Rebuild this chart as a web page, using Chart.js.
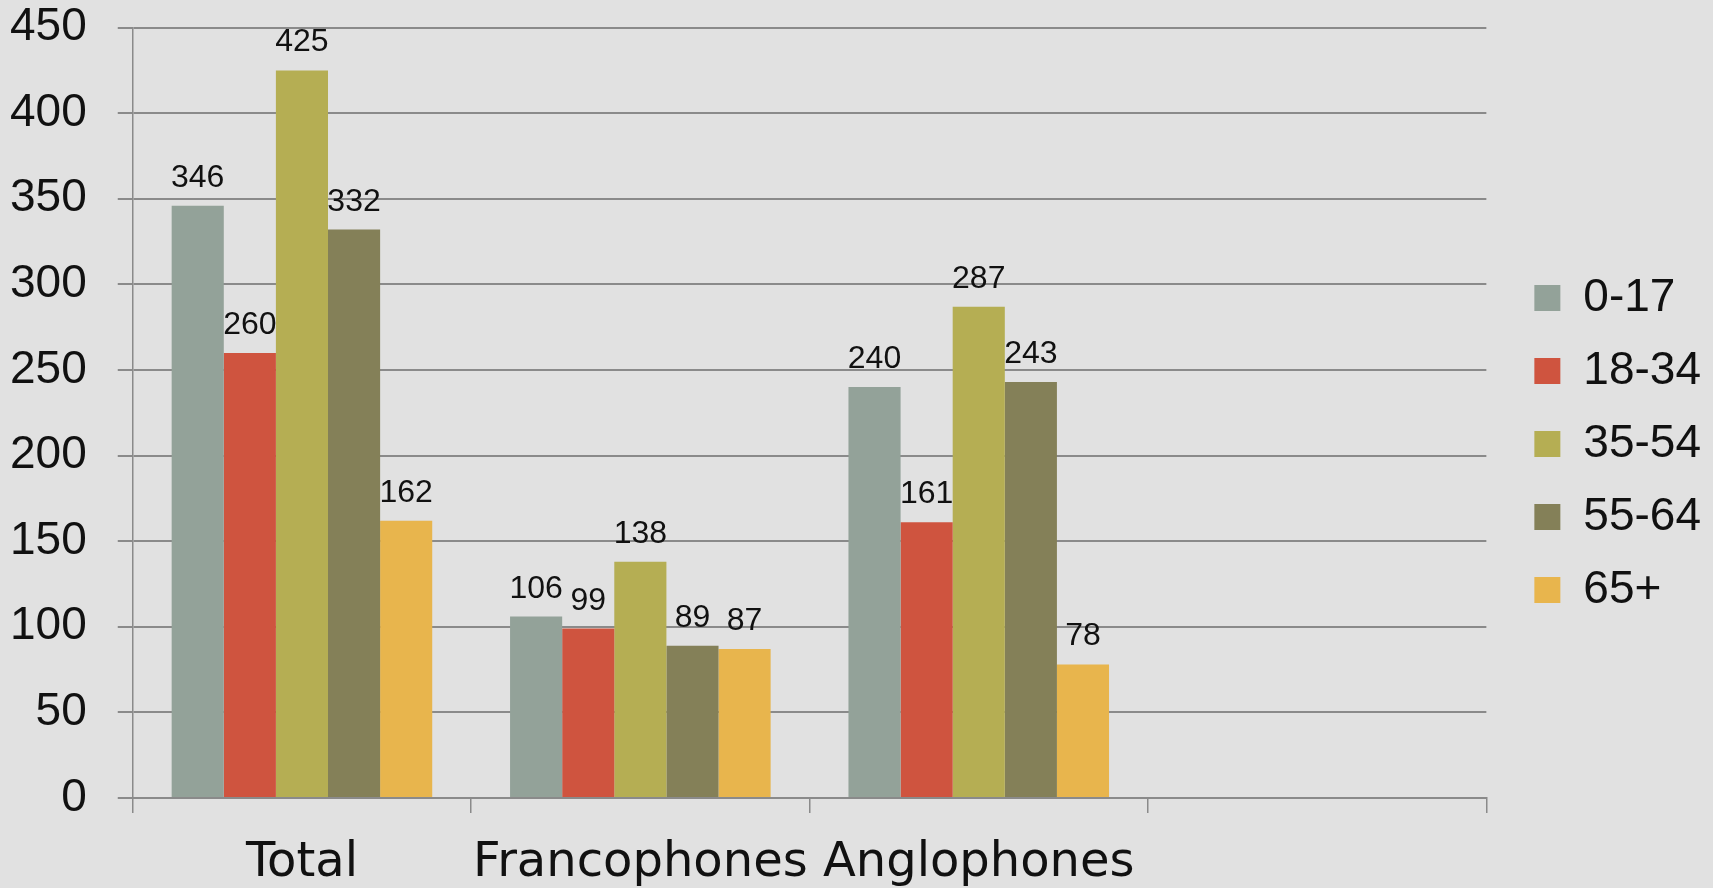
<!DOCTYPE html>
<html>
<head>
<meta charset="utf-8">
<script src="https://cdn.jsdelivr.net/npm/chart.js@4"></script>
<style>
  html, body { margin: 0; padding: 0; background: #e1e1e1; }
  #wrap { width: 1713px; height: 888px; }
</style>
</head>
<body>
<div id="wrap"><canvas id="chart"></canvas></div>
<script>
const categories = ["Total", "Francophones", "Anglophones", ""];
const ageGroups = ["0-17", "18-34", "35-54", "55-64", "65+"];
const age0to17 = [346, 106, 240, null];
const age18to34 = [260, 99, 161, null];
const age35to54 = [425, 138, 287, null];
const age55to64 = [332, 89, 243, null];
const age65plus = [162, 87, 78, null];
const yTicks = [0, 50, 100, 150, 200, 250, 300, 350, 400, 450];

const colors = ["#93a299", "#cf543f", "#b5ae53", "#848058", "#e8b54d"];
const series = [age0to17, age18to34, age35to54, age55to64, age65plus];

const gridColor = "#8a8a8a";
const textColor = "#111111";
const legendGap = 21;

// draws the number above each bar
const valueLabels = {
  id: "valueLabels",
  afterDatasetsDraw(chart) {
    const ctx = chart.ctx;
    ctx.save();
    ctx.font = "32px 'Liberation Sans'";
    ctx.fillStyle = textColor;
    ctx.textAlign = "center";
    ctx.textBaseline = "alphabetic";
    chart.data.datasets.forEach((ds, i) => {
      const meta = chart.getDatasetMeta(i);
      meta.data.forEach((bar, j) => {
        const v = ds.data[j];
        if (v === null || v === undefined) return;
        ctx.fillText(String(v), bar.x, bar.y - 19);
      });
    });
    ctx.restore();
  },
};

// leave some empty room between the plot and the legend
const legendSpacer = {
  id: "legendSpacer",
  beforeLayout(chart) {
    const lg = chart.legend;
    if (lg && !lg._spaced) {
      const fit = lg.fit.bind(lg);
      lg.fit = function () {
        fit();
        this.width += legendGap;
      };
      lg._spaced = true;
    }
  },
  afterLayout(chart) {
    if (chart.legend) chart.legend.left += legendGap;
  },
};

const chart = new Chart(document.getElementById("chart"), {
  type: "bar",
  data: {
    labels: categories,
    datasets: ageGroups.map((label, i) => ({
      label: label,
      data: series[i],
      backgroundColor: colors[i],
      borderWidth: 0,
      categoryPercentage: 0.77,
      barPercentage: 1,
    })),
  },
  options: {
    responsive: true,
    maintainAspectRatio: false,
    animation: false,
    layout: {
      padding: { left: 10, right: 2, top: 0, bottom: 0 },
    },
    plugins: {
      tooltip: { enabled: false },
      legend: {
        position: "right",
        labels: {
          boxWidth: 26,
          boxHeight: 26,
          padding: 27,
          color: textColor,
          font: { family: "'Liberation Sans'", size: 46 },
        },
      },
    },
    scales: {
      x: {
        afterFit(scale) {
          scale.height -= scale.options.ticks.padding;
        },
        grid: {
          drawOnChartArea: false,
          drawTicks: true,
          tickLength: 15,
          color: gridColor,
          lineWidth: 1.5,
        },
        border: { color: gridColor, width: 2 },
        ticks: {
          color: textColor,
          padding: 27,
          font: { family: "'DejaVu Sans'", size: 48, lineHeight: 1 },
          maxRotation: 0,
          autoSkip: false,
        },
      },
      y: {
        min: 0,
        max: 450,
        afterBuildTicks(scale) {
          scale.ticks = yTicks.map((v) => ({ value: v }));
        },
        afterFit(scale) {
          const p = scale.options.ticks.padding;
          scale.width -= p;
          scale.paddingTop -= p;
          scale.paddingBottom -= p;
        },
        grid: {
          color: gridColor,
          lineWidth: 2,
          tickLength: 15,
        },
        border: { color: gridColor, width: 1.5 },
        ticks: {
          color: textColor,
          padding: 31,
          font: { family: "'Liberation Sans'", size: 46, lineHeight: 1.2 },
        },
      },
    },
  },
  plugins: [valueLabels, legendSpacer],
});
</script>
</body>
</html>
